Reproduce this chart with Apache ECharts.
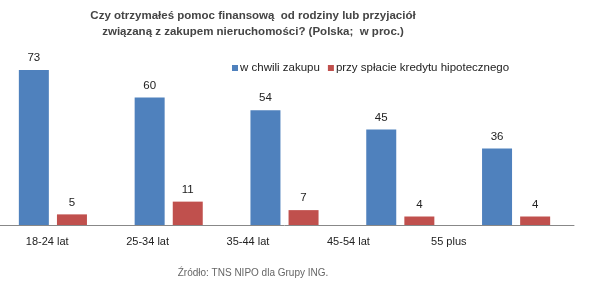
<!DOCTYPE html>
<html><head><meta charset="utf-8">
<script src="https://cdn.jsdelivr.net/npm/echarts@6/dist/echarts.min.js"></script>
<style>html,body{margin:0;padding:0;background:#fff;overflow:hidden}#c{width:605px;height:288px;margin-left:-5px}</style>
</head><body><div id="c"></div>
<script>
const categories = ['18-24 lat','25-34 lat','35-44 lat','45-54 lat','55 plus'];
const seriesNames = ['w chwili zakupu','przy spłacie kredytu hipotecznego'];
const purchase = [73, 60, 54, 45, 36];
const repayment = [5, 11, 7, 4, 4];
const titleText = 'Czy otrzymałeś pomoc finansową  od rodziny lub przyjaciół\nzwiązaną z zakupem nieruchomości? (Polska;  w proc.)';
const sourceText = 'Źródło: TNS NIPO dla Grupy ING.';

const chart = echarts.init(document.getElementById('c'));
const lbl = {show:true, position:'top', distance:6, color:'#222', fontSize:11.5, fontFamily:'Liberation Sans'};
chart.setOption({
  animation:false,
  backgroundColor:'#fff',
  title:[{
    text:titleText, left:253, top:3, textAlign:'center',
    textStyle:{fontFamily:'Liberation Sans', fontSize:11.5, fontWeight:'bold', color:'#444', lineHeight:16}
  },{
    text:sourceText, left:253, top:263, textAlign:'center',
    textStyle:{fontFamily:'Liberation Sans', fontSize:10, fontWeight:'normal', color:'#666'}
  }],
  legend:{
    data:seriesNames, left:232, top:57, itemWidth:6, itemHeight:6, itemGap:8,
    icon:'rect',
    textStyle:{fontFamily:'Liberation Sans', fontSize:11.5, color:'#222', padding:[0,0,0,-3]}
  },
  grid:[
    {left:0, width:579, top:55, height:170},
    {left:2, width:502, top:55, height:170}
  ],
  xAxis:[
    {type:'category', data:categories, gridIndex:0,
     axisLine:{lineStyle:{color:'#888', width:1}}, axisTick:{show:false}, axisLabel:{show:false}},
    {type:'category', data:categories, gridIndex:1,
     axisLine:{show:false}, axisTick:{show:false},
     axisLabel:{color:'#222', fontSize:11, fontFamily:'Liberation Sans', margin:11}}
  ],
  yAxis:[
    {type:'value', min:0, max:80, gridIndex:0, show:false, splitLine:{show:false}},
    {type:'value', min:0, max:80, gridIndex:1, show:false, splitLine:{show:false}}
  ],
  series:[
    {name:seriesNames[0], type:'bar', data:purchase, barWidth:30, barGap:'27%',
     itemStyle:{color:'#4F81BD'}, label:lbl},
    {name:seriesNames[1], type:'bar', data:repayment, barWidth:30,
     itemStyle:{color:'#C0504D'}, label:lbl}
  ]
});
</script></body></html>
